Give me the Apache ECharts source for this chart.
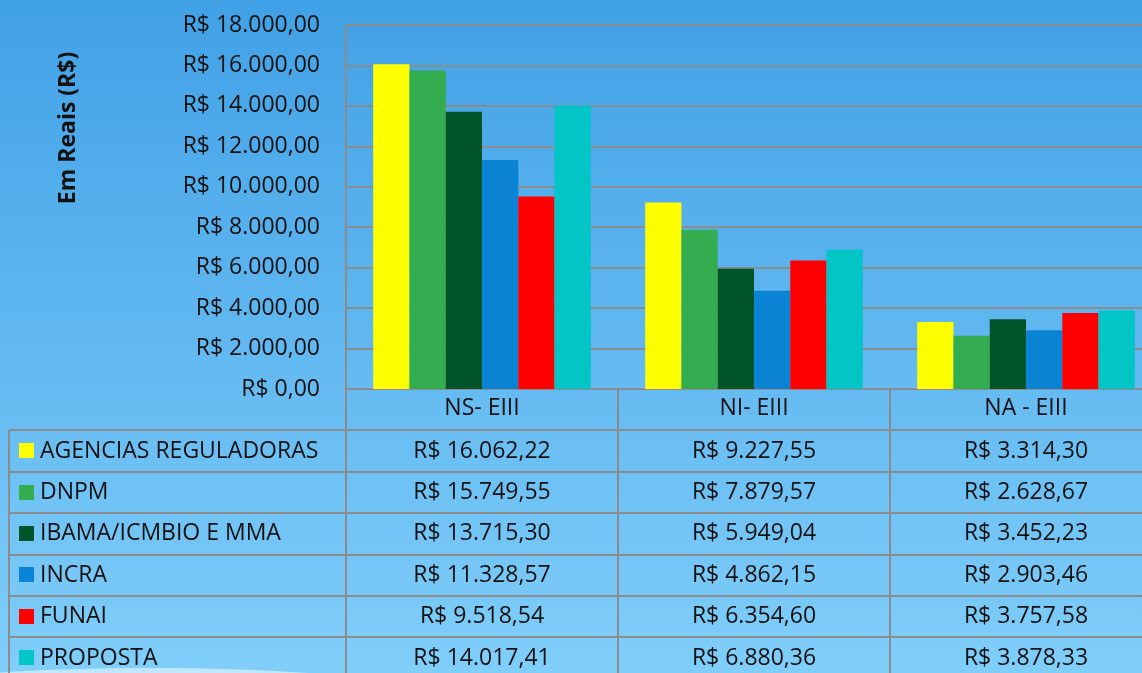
<!DOCTYPE html>
<html>
<head>
<meta charset="utf-8">
<script src="https://cdn.jsdelivr.net/npm/echarts@6/dist/echarts.min.js"></script>
<style>
  html, body { margin: 0; padding: 0; }
  #chart { width: 1142px; height: 673px; }
</style>
</head>
<body>
<div id="chart"></div>
<script>
// categorias (cargos) e séries (órgãos)
const categories = ["NS- EIII", "NI- EIII", "NA - EIII"];
const seriesNames = ["AGENCIAS REGULADORAS", "DNPM", "IBAMA/ICMBIO E MMA", "INCRA", "FUNAI", "PROPOSTA"];
const agencias = [16062.22, 9227.55, 3314.30];
const dnpm = [15749.55, 7879.57, 2628.67];
const ibama = [13715.30, 5949.04, 3452.23];
const incra = [11328.57, 4862.15, 2903.46];
const funai = [9518.54, 6354.60, 3757.58];
const proposta = [14017.41, 6880.36, 3878.33];
const colors = ["#FFFF00", "#33AD4F", "#00542A", "#0B84D6", "#FF0000", "#02C5C5"];

const values = [agencias, dnpm, ibama, incra, funai, proposta];
const FONT = "'Open Sans'";
const FS = 23;
const LINE = "#8C8C8C";

// formato brasileiro: R$ 16.062,22
function brl(v) {
  const parts = v.toFixed(2).split(".");
  const int = parts[0].replace(/\B(?=(\d{3})+(?!\d))/g, ".");
  return "R$ " + int + "," + parts[1];
}

const chart = echarts.init(document.getElementById("chart"));

const gridTop = 25, gridLeft = 346, gridHeight = 364, colWidth = 272;
const rowH = 41.4;

chart.setOption({
  backgroundColor: new echarts.graphic.LinearGradient(0, 0, 0, 1, [
    { offset: 0, color: "#41A1E6" },
    { offset: 1, color: "#80CEFA" }
  ]),
  animation: false,
  grid: { left: gridLeft, top: gridTop, width: colWidth * 3, height: gridHeight, outerBoundsMode: "none", containLabel: false },
  xAxis: {
    type: "category",
    data: categories,
    axisLine: { lineStyle: { color: LINE, width: 2 } },
    axisTick: { show: false },
    axisLabel: { color: "#111", fontFamily: "Open Sans", fontSize: FS, margin: 8 }
  },
  yAxis: {
    type: "value",
    min: 0,
    max: 18000,
    interval: 2000,
    axisLine: { show: true, lineStyle: { color: LINE, width: 2 } },
    splitLine: { lineStyle: { color: LINE, width: 2 } },
    axisLabel: { color: "#111", fontFamily: "Open Sans", fontSize: FS, margin: 26, formatter: v => brl(v) }
  },
  series: seriesNames.map((name, i) => ({
    name: name,
    type: "bar",
    data: values[i],
    barGap: "0%",
    barCategoryGap: "20%",
    itemStyle: { color: colors[i] }
  }))
});

// tabela de dados abaixo do gráfico
const g = [];
const tableTop = gridTop + gridHeight;
const tableBottom = 680;
const tableRight = 1142;

// faixa branca decorativa no canto inferior
g.push({
  type: "ellipse", z: -1,
  shape: { cx: 150, cy: 692, rx: 260, ry: 24 },
  style: { fill: "rgba(255,255,255,0.5)" }
});

g.push({
  type: "text", x: 68, y: 128, rotation: Math.PI / 2,
  style: { text: "Em Reais (R$)", font: "bold 23px " + FONT, fill: "#111", textAlign: "center", textVerticalAlign: "middle" }
});

// linhas horizontais
for (let r = 1; r <= 6; r++) {
  const y = Math.round(tableTop + rowH * r);
  g.push({ type: "line", shape: { x1: 9, y1: y, x2: tableRight, y2: y }, style: { stroke: LINE, lineWidth: 2 } });
}
// linhas verticais
g.push({ type: "line", shape: { x1: 9, y1: Math.round(tableTop + rowH), x2: 9, y2: tableBottom }, style: { stroke: LINE, lineWidth: 2 } });
for (let c = 0; c < 3; c++) {
  const x = gridLeft + colWidth * c;
  g.push({ type: "line", shape: { x1: x, y1: tableTop, x2: x, y2: tableBottom }, style: { stroke: LINE, lineWidth: 2 } });
}

seriesNames.forEach((name, i) => {
  const cy = tableTop + rowH * (i + 1.5);
  g.push({ type: "rect", shape: { x: 19, y: Math.round(cy - 8), width: 15, height: 15 }, style: { fill: colors[i] } });
  g.push({
    type: "text", x: 40, y: cy,
    style: { text: name, font: FS + "px " + FONT, fill: "#111", textVerticalAlign: "middle" }
  });
  categories.forEach((cat, j) => {
    const cx = chart.convertToPixel({ xAxisIndex: 0 }, cat);
    g.push({
      type: "text", x: cx, y: cy,
      style: { text: brl(values[i][j]), font: FS + "px " + FONT, fill: "#111", textAlign: "center", textVerticalAlign: "middle" }
    });
  });
});

chart.setOption({ graphic: g });
</script>
</body>
</html>
